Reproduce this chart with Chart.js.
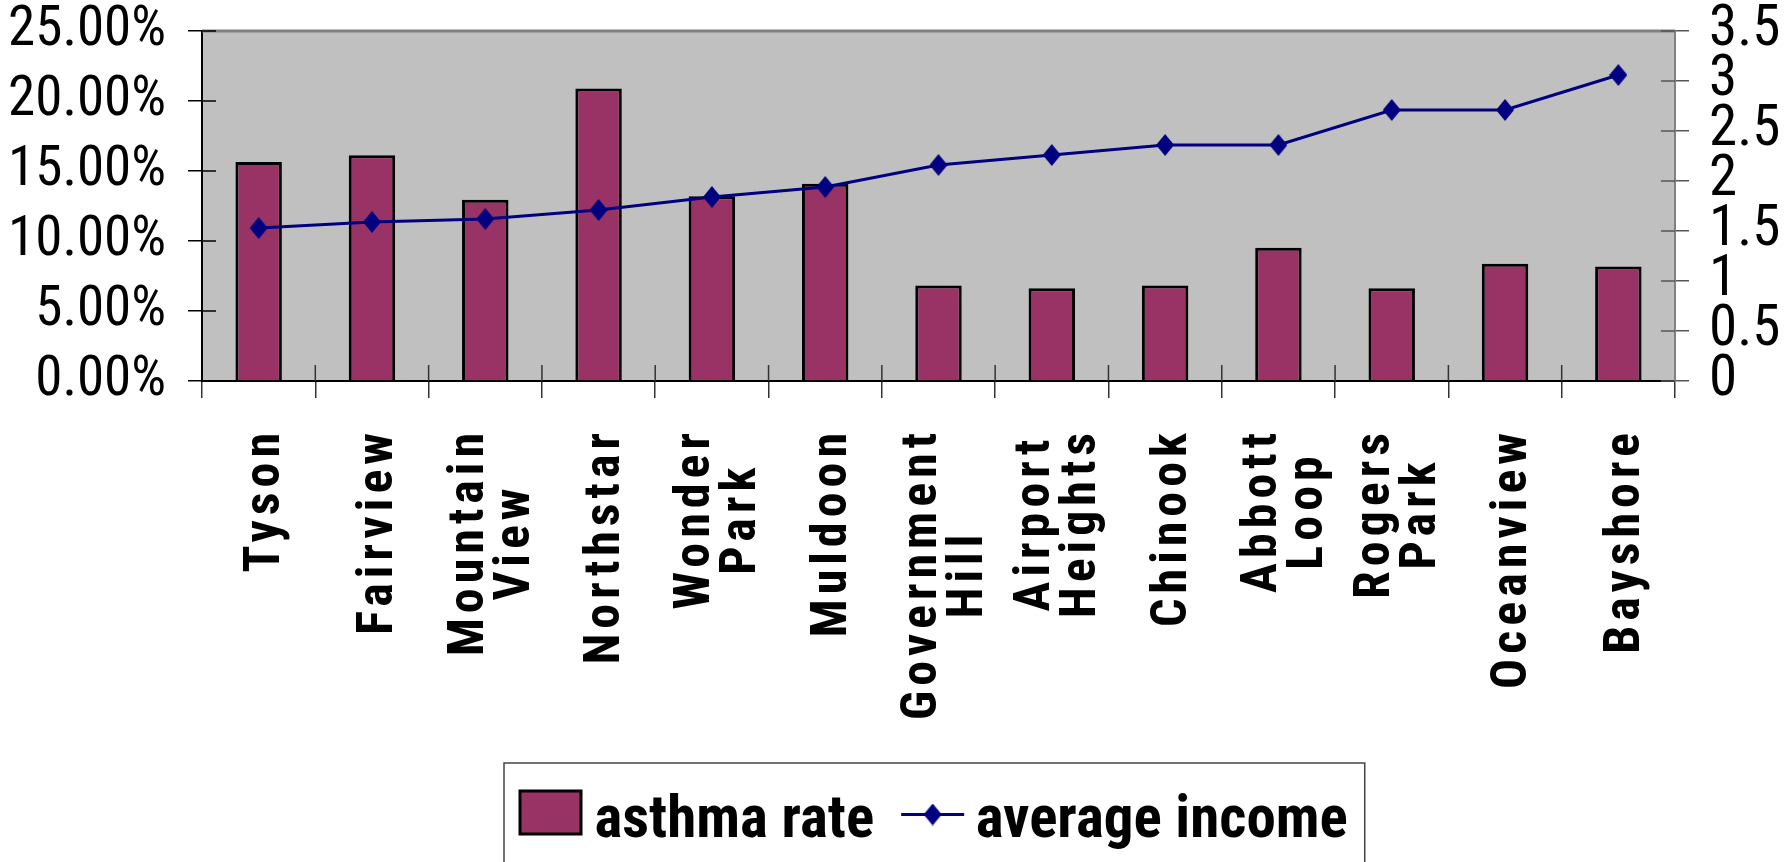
<!DOCTYPE html>
<html><head><meta charset="utf-8">
<script src="https://cdn.jsdelivr.net/npm/chart.js@4"></script>
<style>html,body{margin:0;padding:0;background:#fff;}</style>
</head><body>
<canvas id="c" width="1785" height="862" style="display:block;width:1785px;height:862px"></canvas>
<script>
// ---------- data ----------
const categories = ['Tyson','Fairview','Mountain View','Northstar','Wonder Park','Muldoon','Government Hill','Airport Heights','Chinook','Abbott Loop','Rogers Park','Oceanview','Bayshore'];
const asthmaRate = [15.64,16.12,12.95,20.90,13.19,14.09,6.83,6.62,6.83,9.52,6.62,8.38,8.17];
const averageIncome = [1.53,1.59,1.62,1.71,1.84,1.94,2.16,2.26,2.36,2.36,2.71,2.71,3.06];
const seriesNames = ['asthma rate','average income'];
const leftTicks = [0,5,10,15,20,25];
const rightTicks = [0,0.5,1,1.5,2,2.5,3,3.5];

// ---------- style ----------
const FAMILY = 'Roboto';
const LS = 5;            // letter spacing of category labels
const BAR = '#993366', LINE = '#000080';
const LEG_SIZE = 59, LEG_BOX = 45, LEG_PAD = 27;
const PLOT_LEFT = 202, LEGEND_X = 520;

// Excel-like tall diamond marker
const diamond = document.createElement('canvas');
diamond.width = 18; diamond.height = 22;
(() => {
  const d = diamond.getContext('2d');
  d.fillStyle = LINE;
  d.beginPath(); d.moveTo(9, 0); d.lineTo(18, 11); d.lineTo(9, 22); d.lineTo(0, 11); d.closePath(); d.fill();
})();

// legend row is centred between legLeft and the right edge so that it starts where the reference one does
const mctx = document.createElement('canvas').getContext('2d');
mctx.font = 'bold condensed ' + LEG_SIZE + 'px ' + FAMILY;
const lineW = seriesNames.reduce((s, t) => s + LEG_BOX + LEG_SIZE / 2 + mctx.measureText(t).width + LEG_PAD, 0);
const legLeft = 2 * LEGEND_X - LEG_PAD - 1785 + lineW;

const deco = {
  id: 'deco',
  afterLayout(chart) {
    chart.legend.left = legLeft;
    chart.legend.right = chart.width;
  },
  beforeDraw(chart) {
    const {ctx, chartArea: a} = chart;
    ctx.save();
    ctx.fillStyle = '#C0C0C0';
    ctx.fillRect(a.left, a.top, a.right - a.left, a.bottom - a.top);
    ctx.restore();
    const items = chart.scales.x.getLabelItems();
    if (!items._centered) {
      items._centered = true;
      ctx.save();
      items.forEach(it => {
        const lines = Array.isArray(it.label) ? it.label : [it.label];
        ctx.font = it.font.string;
        const w = Math.max(...lines.map(l => ctx.measureText(l).width + LS * l.length));
        it.options.textAlign = 'center';
        it.options.translation = [
          it.options.translation[0] + 8 - (lines.length - 1) * it.font.lineHeight / 2,
          it.options.translation[1] + w / 2
        ];
      });
      ctx.restore();
    }
  },
  beforeDatasetsDraw(chart) {
    const {ctx, chartArea: a, scales} = chart;
    ctx.save();
    ctx.strokeStyle = '#808080'; ctx.lineWidth = 3;
    ctx.beginPath(); ctx.moveTo(a.left, a.top); ctx.lineTo(a.right, a.top); ctx.stroke();
    ctx.lineWidth = 1.5;
    ctx.strokeStyle = '#333';
    for (let i = 1; i < categories.length; i++) {
      const px = scales.x.getPixelForValue(i - 0.5);
      ctx.beginPath(); ctx.moveTo(px, a.bottom - 16); ctx.lineTo(px, a.bottom); ctx.stroke();
    }
    ctx.strokeStyle = '#000';
    leftTicks.forEach(v => {
      const py = scales.y.getPixelForValue(v);
      ctx.beginPath(); ctx.moveTo(a.left, py); ctx.lineTo(a.left + 14, py); ctx.stroke();
    });
    ctx.strokeStyle = '#555';
    rightTicks.forEach(v => {
      const py = scales.y1.getPixelForValue(v);
      ctx.beginPath(); ctx.moveTo(a.right - 14, py); ctx.lineTo(a.right, py); ctx.stroke();
    });
    ctx.restore();
  },
  afterDatasetsDraw(chart) {
    chart.ctx.letterSpacing = LS + 'px';
  },
  afterDraw(chart) {
    const ctx = chart.ctx;
    ctx.letterSpacing = '0px';
    const lg = chart.legend, hb = lg.legendHitBoxes;
    ctx.save();
    const left = hb[0].left - 16, right = hb[1].left + hb[1].width + 17, top = lg.top - 3;
    ctx.strokeStyle = '#444'; ctx.lineWidth = 1.5;
    ctx.beginPath(); ctx.moveTo(left, chart.height + 5); ctx.lineTo(left, top); ctx.lineTo(right, top); ctx.lineTo(right, chart.height + 5); ctx.stroke();
    const yc = hb[0].top + hb[0].height / 2 - 10;
    ctx.fillStyle = BAR; ctx.fillRect(hb[0].left, yc - 21.5, 61, 43);
    ctx.strokeStyle = '#000'; ctx.lineWidth = 3; ctx.strokeRect(hb[0].left, yc - 21.5, 61, 43);
    const x1 = hb[1].left, y1 = yc + 2;
    ctx.strokeStyle = LINE; ctx.lineWidth = 3;
    ctx.beginPath(); ctx.moveTo(x1, y1); ctx.lineTo(x1 + 63, y1); ctx.stroke();
    ctx.drawImage(diamond, x1 + 31.5 - diamond.width / 2, y1 - diamond.height / 2);
    ctx.restore();
  }
};

new Chart(document.getElementById('c'), {
  data: {
    labels: categories.map(c => c.split(' ')),
    datasets: [
      { type: 'bar', label: seriesNames[0], data: asthmaRate, yAxisID: 'y', order: 2,
        backgroundColor: BAR, borderColor: '#000', borderWidth: 3,
        barPercentage: 0.41, categoryPercentage: 1 },
      { type: 'line', label: seriesNames[1], data: averageIncome, yAxisID: 'y1', order: 1,
        borderColor: LINE, borderWidth: 3, tension: 0, fill: false,
        pointStyle: diamond, pointRadius: 10 }
    ]
  },
  options: {
    responsive: false, animation: false, devicePixelRatio: 1,
    layout: { padding: { left: 0, right: 0, top: 31, bottom: 0 } },
    scales: {
      x: {
        type: 'category', offset: true,
        grid: { display: true, drawOnChartArea: false, drawTicks: true, tickLength: 17, color: '#333', lineWidth: 1.5, offset: true },
        border: { display: true, color: '#000', width: 2 },
        ticks: { autoSkip: false, minRotation: 90, maxRotation: 90, padding: 30, z: 1, color: '#000',
                 font: { family: FAMILY, weight: 'bold condensed', size: 50, lineHeight: 0.92 } },
        afterFit(s) { s.height = 385; s.paddingLeft = 0; s.paddingRight = 0; }
      },
      y: {
        position: 'left', min: 0, max: 25,
        afterBuildTicks(s) { s.ticks = leftTicks.map(v => ({ value: v })); },
        grid: { display: true, drawOnChartArea: false, drawTicks: true, tickLength: 14, color: '#000', lineWidth: 1.5 },
        border: { display: true, color: '#000', width: 2 },
        ticks: { autoSkip: false, padding: 22, color: '#000', font: { family: FAMILY, weight: 'condensed', size: 55, lineHeight: 1 },
                 callback: v => v.toFixed(2) + '%' },
        afterFit(s) { s.width = PLOT_LEFT; s.paddingTop = 0; s.paddingBottom = 0; }
      },
      y1: {
        position: 'right', min: 0, max: 3.5,
        afterBuildTicks(s) { s.ticks = rightTicks.map(v => ({ value: v })); },
        grid: { display: true, drawOnChartArea: false, drawTicks: true, tickLength: 14, color: '#555', lineWidth: 1.5 },
        border: { display: true, color: '#808080', width: 2 },
        ticks: { autoSkip: false, padding: 20, color: '#000', font: { family: FAMILY, weight: 'condensed', size: 57, lineHeight: 1 },
                 callback: v => String(v) },
        afterFit(s) { s.width = 110; s.paddingTop = 0; s.paddingBottom = 0; }
      }
    },
    plugins: {
      tooltip: { enabled: false },
      legend: {
        position: 'bottom',
        labels: {
          color: '#000', font: { family: FAMILY, weight: 'bold condensed', size: LEG_SIZE },
          boxWidth: LEG_BOX, boxHeight: 43, padding: LEG_PAD,
          generateLabels: () => seriesNames.map((t, i) => ({
            text: t, fillStyle: 'rgba(0,0,0,0)', strokeStyle: 'rgba(0,0,0,0)', lineWidth: 0, hidden: false, datasetIndex: i
          }))
        }
      }
    }
  },
  plugins: [deco]
});
</script>
</body></html>
